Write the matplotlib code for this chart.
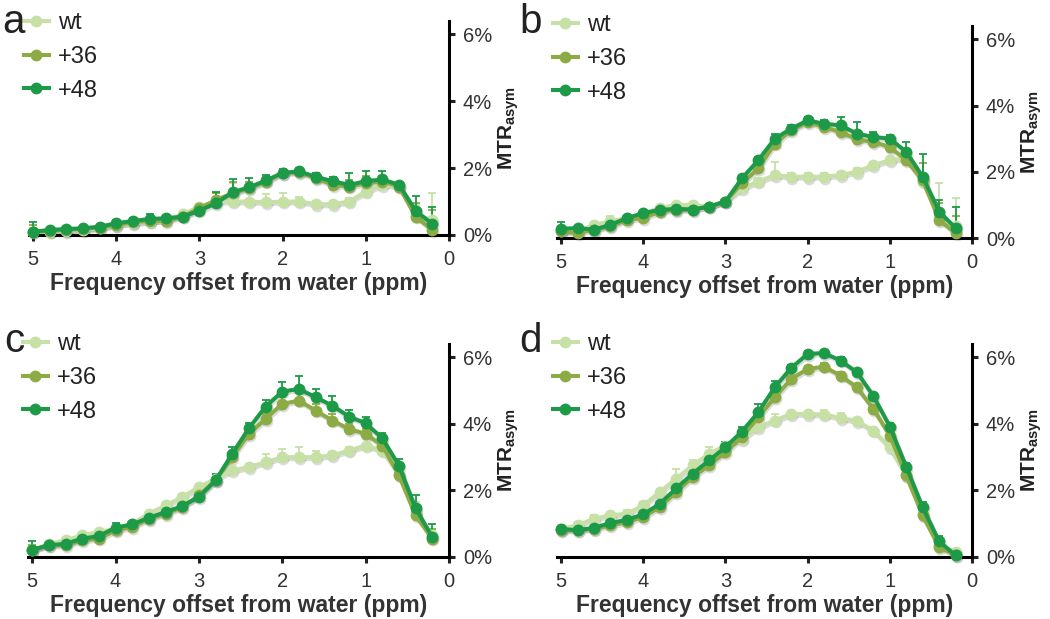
import matplotlib
matplotlib.use("Agg")
import matplotlib.pyplot as plt
from matplotlib.transforms import offset_copy
import numpy as np

plt.rcParams['font.family'] = ['Liberation Sans', 'DejaVu Sans']
plt.rcParams['mathtext.fontset'] = 'custom'
plt.rcParams['mathtext.rm'] = 'Liberation Sans:bold'
plt.rcParams['mathtext.bf'] = 'Liberation Sans:bold'

# ---------------- data ----------------
offsets = [5.0, 4.8, 4.6, 4.4, 4.2, 4.0, 3.8, 3.6, 3.4, 3.2, 3.0, 2.8, 2.6,
           2.4, 2.2, 2.0, 1.8, 1.6, 1.4, 1.2, 1.0, 0.8, 0.6, 0.4, 0.2]
series_names = ["wt", "+36", "+48"]
panel_letters = ["a", "b", "c", "d"]
x_ticks = [5, 4, 3, 2, 1, 0]
y_ticks = [0, 2, 4, 6]
y_tick_labels = ["0%", "2%", "4%", "6%"]
x_label = "Frequency offset from water (ppm)"

# panel a
a_wt  = [0.10, 0.10, 0.12, 0.15, 0.20, 0.30, 0.35, 0.40, 0.45, 0.62, 0.85, 1.00, 1.00,
         1.00, 0.98, 1.00, 1.00, 0.92, 0.92, 1.00, 1.30, 1.50, 1.45, 0.60, 0.45]
a_36  = [0.10, 0.12, 0.15, 0.18, 0.22, 0.30, 0.38, 0.42, 0.42, 0.55, 0.80, 1.05, 1.25,
         1.40, 1.60, 1.85, 1.88, 1.70, 1.50, 1.45, 1.55, 1.60, 1.45, 0.55, 0.15]
a_48  = [0.10, 0.15, 0.18, 0.20, 0.25, 0.35, 0.42, 0.48, 0.50, 0.55, 0.73, 0.95, 1.28,
         1.43, 1.63, 1.86, 1.90, 1.74, 1.61, 1.50, 1.61, 1.66, 1.50, 0.72, 0.33]
a_wt_err = [0.10, 0.05, 0.05, 0.05, 0.05, 0.05, 0.05, 0.05, 0.05, 0.05, 0.05, 0.10, 0.55,
            0.25, 0.25, 0.25, 0.15, 0.10, 0.10, 0.10, 0.10, 0.10, 0.10, 0.30, 0.80]
a_36_err = [0.20, 0.05, 0.05, 0.05, 0.05, 0.05, 0.05, 0.10, 0.05, 0.10, 0.10, 0.20, 0.35,
            0.20, 0.10, 0.10, 0.10, 0.10, 0.10, 0.20, 0.20, 0.15, 0.10, 0.40, 0.60]
a_48_err = [0.30, 0.05, 0.05, 0.05, 0.05, 0.10, 0.10, 0.15, 0.10, 0.10, 0.10, 0.35, 0.40,
            0.27, 0.15, 0.10, 0.10, 0.10, 0.12, 0.35, 0.30, 0.25, 0.10, 0.45, 0.50]

# panel b
b_wt  = [0.20, 0.20, 0.40, 0.50, 0.60, 0.75, 0.90, 1.00, 1.00, 0.95, 1.10, 1.50, 1.70,
         1.90, 1.85, 1.85, 1.85, 1.90, 2.00, 2.20, 2.35, 2.40, 1.70, 0.65, 0.35]
b_36  = [0.20, 0.15, 0.25, 0.35, 0.55, 0.60, 0.80, 0.85, 0.85, 0.95, 1.10, 1.65, 2.10,
         2.85, 3.25, 3.50, 3.35, 3.20, 2.98, 2.90, 2.75, 2.35, 1.75, 0.55, 0.15]
b_48  = [0.28, 0.30, 0.25, 0.40, 0.60, 0.75, 0.85, 0.88, 0.86, 0.95, 1.10, 1.80, 2.35,
         3.00, 3.30, 3.55, 3.45, 3.40, 3.15, 3.05, 3.00, 2.60, 1.85, 0.80, 0.30]
b_wt_err = [0.10, 0.05, 0.05, 0.15, 0.05, 0.05, 0.05, 0.10, 0.10, 0.05, 0.05, 0.10, 0.10,
            0.40, 0.10, 0.10, 0.10, 0.10, 0.10, 0.10, 0.10, 0.15, 0.20, 1.00, 0.85]
b_36_err = [0.10, 0.05, 0.05, 0.10, 0.05, 0.05, 0.05, 0.05, 0.05, 0.05, 0.05, 0.10, 0.10,
            0.15, 0.10, 0.10, 0.10, 0.15, 0.20, 0.10, 0.10, 0.20, 0.50, 0.50, 0.50]
b_48_err = [0.20, 0.05, 0.05, 0.10, 0.05, 0.05, 0.05, 0.05, 0.05, 0.05, 0.05, 0.10, 0.10,
            0.15, 0.10, 0.10, 0.10, 0.25, 0.35, 0.15, 0.10, 0.30, 0.70, 0.35, 0.65]

# panel c
c_wt  = [0.20, 0.40, 0.50, 0.65, 0.75, 0.85, 1.00, 1.30, 1.55, 1.80, 2.10, 2.35, 2.60,
         2.70, 2.85, 3.00, 3.00, 3.00, 3.05, 3.20, 3.35, 3.20, 2.50, 1.35, 0.65]
c_36  = [0.20, 0.35, 0.35, 0.50, 0.55, 0.80, 0.90, 1.15, 1.30, 1.50, 1.85, 2.30, 3.00,
         3.70, 4.15, 4.60, 4.70, 4.40, 4.10, 3.85, 3.70, 3.35, 2.45, 1.25, 0.55]
c_48  = [0.22, 0.35, 0.40, 0.55, 0.63, 0.88, 0.98, 1.18, 1.35, 1.53, 1.80, 2.30, 3.10,
         3.87, 4.52, 4.97, 5.05, 4.80, 4.55, 4.22, 4.02, 3.57, 2.74, 1.46, 0.60]
c_wt_err = [0.10, 0.05, 0.05, 0.05, 0.05, 0.05, 0.05, 0.05, 0.05, 0.05, 0.10, 0.10, 0.10,
            0.10, 0.25, 0.25, 0.30, 0.20, 0.10, 0.10, 0.20, 0.10, 0.10, 0.30, 0.20]
c_36_err = [0.15, 0.05, 0.05, 0.05, 0.05, 0.10, 0.05, 0.05, 0.05, 0.05, 0.10, 0.15, 0.15,
            0.15, 0.15, 0.20, 0.25, 0.20, 0.20, 0.15, 0.15, 0.10, 0.15, 0.30, 0.30]
c_48_err = [0.25, 0.05, 0.05, 0.05, 0.05, 0.15, 0.05, 0.05, 0.05, 0.05, 0.10, 0.20, 0.20,
            0.15, 0.20, 0.30, 0.40, 0.25, 0.30, 0.20, 0.20, 0.15, 0.20, 0.40, 0.40]

# panel d
d_wt  = [0.85, 0.95, 1.15, 1.25, 1.30, 1.55, 1.95, 2.35, 2.75, 3.10, 3.35, 3.55, 3.90,
         4.10, 4.30, 4.30, 4.28, 4.18, 4.08, 3.80, 3.30, 2.45, 1.30, 0.35, 0.15]
d_36  = [0.80, 0.80, 0.85, 0.95, 1.05, 1.20, 1.50, 1.95, 2.40, 2.75, 3.15, 3.60, 4.20,
         4.80, 5.35, 5.65, 5.72, 5.45, 5.10, 4.45, 3.65, 2.45, 1.25, 0.30, 0.05]
d_48  = [0.85, 0.80, 0.88, 1.02, 1.12, 1.28, 1.60, 2.06, 2.50, 2.90, 3.30, 3.77, 4.35,
         5.10, 5.68, 6.10, 6.13, 5.90, 5.55, 4.84, 3.92, 2.71, 1.49, 0.47, 0.05]
d_wt_err = [0.10, 0.10, 0.10, 0.10, 0.10, 0.10, 0.10, 0.30, 0.15, 0.20, 0.10, 0.10, 0.10,
            0.20, 0.10, 0.10, 0.15, 0.15, 0.10, 0.10, 0.10, 0.10, 0.10, 0.10, 0.10]
d_36_err = [0.10, 0.05, 0.05, 0.05, 0.05, 0.05, 0.10, 0.10, 0.10, 0.10, 0.10, 0.10, 0.15,
            0.15, 0.10, 0.10, 0.10, 0.10, 0.10, 0.10, 0.10, 0.10, 0.10, 0.10, 0.05]
d_48_err = [0.05, 0.05, 0.05, 0.05, 0.05, 0.05, 0.05, 0.05, 0.10, 0.10, 0.15, 0.15, 0.25,
            0.20, 0.10, 0.10, 0.10, 0.10, 0.10, 0.10, 0.10, 0.10, 0.15, 0.15, 0.05]

panels = [
    (a_wt, a_36, a_48, a_wt_err, a_36_err, a_48_err),
    (b_wt, b_36, b_48, b_wt_err, b_36_err, b_48_err),
    (c_wt, c_36, c_48, c_wt_err, c_36_err, c_48_err),
    (d_wt, d_36, d_48, d_wt_err, d_36_err, d_48_err),
]

colors = ["#c6e0a6", "#8dab45", "#1d9a47"]

# ---------------- layout ----------------
W, H = 1050, 619
fig = plt.figure(figsize=(W / 100, H / 100), dpi=100)

# axes boxes in pixels: left, right, top(px from top), bottom(px from top)
boxes = [(29, 449, 21, 235), (557, 972, 26, 238),
         (28, 449, 344, 557), (557, 972, 344, 557)]
letter_pos = [(2, 33), (519, 33), (4, 352), (519, 352)]
legend_top = [(24, 12), (553, 14), (23, 333), (553, 333)]

for i, (box, data) in enumerate(zip(boxes, panels)):
    l, r, t, b = box
    ax = fig.add_axes([l / W, 1 - b / H, (r - l) / W, (b - t) / H])
    vals = data[:3]
    errs = data[3:]
    x = np.array(offsets)
    handles = []
    for name, v, e, c in zip(series_names, vals, errs, colors):
        v = np.array(v)
        e = np.array(e)
        # soft drop shadow
        sh = offset_copy(ax.transData, fig=fig, x=1.0, y=-1.8, units='dots')
        ax.plot(x, v, color='0.45', alpha=0.25, lw=3.2, marker='o', ms=8.5,
                mew=0, transform=sh, clip_on=False, zorder=2)
        ax.errorbar(x, v, yerr=[np.zeros_like(e), e], fmt='none', ecolor=c,
                    elinewidth=1.3, capsize=3, capthick=1.3, clip_on=False,
                    zorder=3)
        ln, = ax.plot(x, v, color=c, lw=2.9, marker='o', ms=8.5, mew=0,
                      clip_on=False, zorder=4, label=name)
        handles.append(ln)

    ax.set_xlim(5.05, 0)
    ax.set_ylim(0, 6.4)
    ax.yaxis.tick_right()
    ax.yaxis.set_label_position('right')
    for s in ['top', 'left']:
        ax.spines[s].set_visible(False)
    for s in ['bottom', 'right']:
        ax.spines[s].set_linewidth(2.2)
    ax.set_xticks(x_ticks)
    ax.set_xticklabels([str(t) for t in x_ticks])
    ax.set_yticks(y_ticks)
    ax.set_yticklabels(y_tick_labels)
    ax.tick_params(axis='both', direction='out', length=4, width=2.2,
                   labelsize=14.5, colors='#222222', labelcolor='#333333')
    ax.tick_params(axis='x', pad=7)
    ax.tick_params(axis='y', pad=6)
    ax.set_xlabel(x_label, fontsize=16.5, fontweight='bold', color='#333333',
                  labelpad=2)
    ax.set_ylabel(r'MTR$_{\mathregular{asym}}$', fontsize=15, fontweight='bold',
                  color='#222222', labelpad=3)

    lx, ly = legend_top[i]
    ax.legend(handles=handles, loc='upper left',
              bbox_to_anchor=(lx / W, 1 - ly / H),
              bbox_transform=fig.transFigure, frameon=False,
              fontsize=17, handlelength=1.05, handletextpad=0.4,
              labelspacing=0.5, borderpad=0, borderaxespad=0,
              labelcolor='#222222')

    px, py = letter_pos[i]
    fig.text(px / W, 1 - py / H, panel_letters[i], fontsize=29,
             color='#222222', ha='left', va='baseline')

fig.savefig("out.png", dpi=100)
